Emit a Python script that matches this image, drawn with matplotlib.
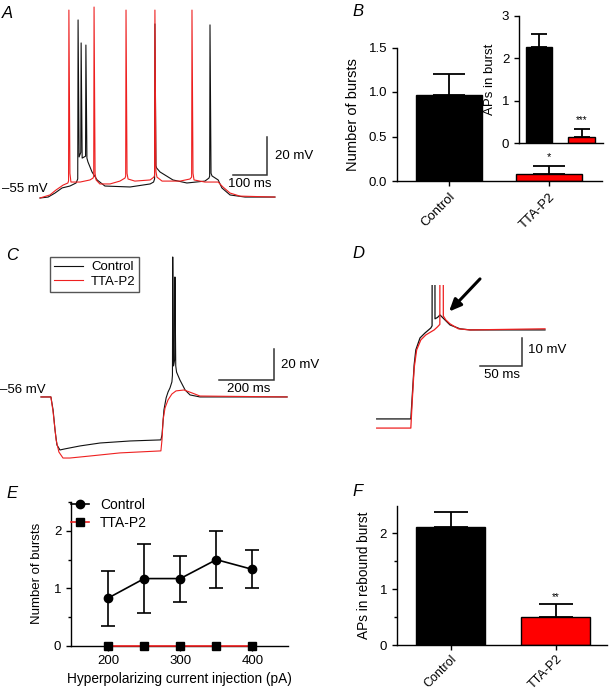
import matplotlib
matplotlib.use('Agg')
import matplotlib.pyplot as plt
from matplotlib.lines import Line2D

plt.rcParams['font.family'] = ['Liberation Sans', 'DejaVu Sans']
plt.rcParams['font.size'] = 9
plt.rcParams['axes.linewidth'] = 1.0
plt.rcParams['xtick.major.width'] = 1.0
plt.rcParams['ytick.major.width'] = 1.0
plt.rcParams['xtick.major.size'] = 3.5
plt.rcParams['ytick.major.size'] = 3.5

RED = '#ee2020'
BAR_RED = '#ff0000'
BLK = '#111111'

# ---------------- data ----------------
# Panel A: spontaneous firing traces (time ms, membrane potential mV)
a_ctrl_t = [0, 24, 44, 65, 88, 106, 111, 112, 115, 120, 121, 124, 134, 135, 138, 141, 153, 168, 191, 265,
            324, 334, 337, 338, 341, 343, 353, 391, 432, 485, 497, 499, 500, 503, 506, 524, 535, 559, 603, 691]
a_ctrl_v = [-55.0, -54.5, -52.4, -49.7, -48.7, -47.1, -45.0, 38.7, -33.4, -31.0, 26.6, -34.0, -33.0, 25.5, -34.0,
            -36.0, -41.3, -45.5, -48.7, -49.2, -47.6, -46.6, -45.0, 36.6, -38.0, -39.2, -41.3, -45.5, -47.1, -46.1,
            -44.5, -43.5, 36.1, -42.0, -43.4, -45.5, -49.7, -53.4, -54.5, -54.5]
a_tta_t = [0, 29, 47, 68, 82, 84, 85, 88, 91, 118, 147, 156, 158, 159, 162, 165, 176, 206, 235, 250,
           252, 253, 256, 259, 279, 324, 335, 337, 338, 341, 344, 359, 412, 441, 446, 447, 450, 453, 485, 524,
           538, 559, 588, 691]
a_tta_v = [-55.0, -53.4, -50.8, -48.2, -47.1, -46.0, 43.9, -42.0, -46.6, -46.6, -45.5, -44.5, -43.5, 45.5, -42.0,
           -45.5, -47.6, -47.6, -46.1, -44.5, -43.5, 43.9, -42.0, -45.0, -46.1, -45.5, -44.0, -43.0, 43.9, -41.0,
           -44.0, -46.1, -46.1, -45.0, -44.0, 43.9, -42.0, -45.5, -46.6, -46.6, -49.2, -52.4, -54.0, -54.5]

# Panel B
groups = ['Control', 'TTA-P2']
bursts_mean = [0.97, 0.08]
bursts_sem = [0.23, 0.09]
aps_burst_mean = [2.28, 0.15]
aps_burst_sem = [0.29, 0.18]

# Panel C: rebound traces
c_ctrl_t = [0, 36, 44, 51, 58, 69, 87, 142, 215, 324, 436, 440, 447, 455, 462, 469, 476, 478, 479, 482,
            486, 487, 490, 493, 505, 524, 542, 578, 895]
c_ctrl_v = [-56.0, -56.0, -64.4, -77.3, -87.0, -90.2, -89.5, -87.6, -85.7, -84.4, -83.7, -80.5, -64.4, -56.6,
            -52.8, -50.2, -46.3, -42.0, 34.3, -36.0, -32.0, 21.4, -36.0, -40.0, -45.0, -51.5, -54.7, -56.0, -56.0]
c_tta_t = [0, 36, 44, 55, 65, 80, 105, 178, 287, 436, 440, 444, 451, 462, 476, 491, 520, 549, 578, 895]
c_tta_v = [-56.0, -56.0, -65.7, -83.7, -91.5, -95.4, -95.4, -94.1, -92.1, -90.8, -83.7, -70.8, -63.1, -57.9,
           -54.1, -52.1, -51.5, -53.4, -55.4, -56.0]

# Panel D: expanded rebound
d_ctrl_t = [0, 41, 42.4, 45, 47, 52, 58, 65, 66.5, 66.7, 69.8, 70.0, 73, 76, 82, 88, 100, 112, 202]
d_ctrl_v = [-88.1, -88.1, -81.3, -68.6, -63.2, -58.9, -57.1, -55.3, -54.5, 0.0, 0.0, -52.0, -51.5, -50.6,
            -52.4, -54.2, -55.6, -56.0, -56.0]
d_tta_t = [0, 41, 42.4, 45, 48, 53, 59, 69, 73, 75.8, 76.0, 79.8, 80.0, 83, 88, 98, 112, 202]
d_tta_v = [-91.4, -91.4, -83.1, -69.7, -63.2, -59.6, -57.8, -56.0, -54.9, -54.0, 0.0, 0.0, -51.0, -52.4,
           -53.8, -55.6, -56.0, -55.6]

# Panel E
current = [200, 250, 300, 350, 400]
e_ctrl_mean = [0.83, 1.17, 1.17, 1.50, 1.33]
e_ctrl_sem = [0.48, 0.60, 0.40, 0.50, 0.33]
e_tta_mean = [0, 0, 0, 0, 0]

# Panel F
rebound_mean = [2.12, 0.51]
rebound_sem = [0.27, 0.23]

# ---------------- figure ----------------
W, H = 610, 693
fig = plt.figure(figsize=(W / 100, H / 100), dpi=100)


def add_ax(x0, y0, x1, y1):
    return fig.add_axes([x0 / W, 1 - y1 / H, (x1 - x0) / W, (y1 - y0) / H])


def ftext(x, y, s, **kw):
    fig.text(x / W, 1 - y / H, s, **kw)


def panel_label(x, y, s):
    ftext(x, y, s, fontsize=12, fontstyle='italic', ha='left', va='center')


def style_bar_axes(ax):
    for sp in ['top', 'right']:
        ax.spines[sp].set_visible(False)
    ax.tick_params(direction='out', length=3.5, labelsize=9.5)
    ax.tick_params(which='minor', direction='out', length=2.2, width=1.0)


# ---- Panel A ----
axA = add_ax(35, 0, 300, 200)
axA.set_xlim(-14.7, 764.7)
axA.set_ylim(-56.05, 49.2)
axA.axis('off')
axA.plot(a_ctrl_t, a_ctrl_v, color=BLK, lw=0.8)
axA.plot(a_tta_t, a_tta_v, color=RED, lw=0.8)
axA.plot([567.6, 667.6, 667.6], [-42.9, -42.9, -22.9], color='#333333', lw=1.1, solid_joinstyle='miter')
axA.text(691, -32.9, '20 mV', ha='left', va='center', fontsize=9.5)
axA.text(618, -47.8, '100 ms', ha='center', va='center', fontsize=9.5)
axA.text(21, -50.0, '\u201355 mV', ha='right', va='center', fontsize=9.5)
panel_label(2, 14, 'A')

# ---- Panel B ----
axB = add_ax(397, 47.5, 602, 181)
style_bar_axes(axB)
xb = [0, 1]
axB.errorbar(xb, bursts_mean, yerr=[[0, 0], bursts_sem], fmt='none', ecolor='black',
             elinewidth=1.3, capsize=11.5, capthick=1.3, zorder=1)
axB.bar(xb, bursts_mean, width=0.657, color=['black', BAR_RED], edgecolor='black', linewidth=1.0, zorder=2)
axB.set_xlim(-0.514, 1.525)
axB.set_ylim(0, 1.5)
axB.set_yticks([0, 0.5, 1.0, 1.5])
axB.set_yticklabels(['0.0', '0.5', '1.0', '1.5'])
axB.set_xticks(xb)
axB.set_xticklabels(groups, rotation=45, ha='right', rotation_mode='anchor', fontsize=9.5)
axB.set_ylabel('Number of bursts', labelpad=6, fontsize=10.5)
axB.text(1, 0.27, '*', ha='center', va='center', fontsize=8)
panel_label(352, 12, 'B')

axBi = add_ax(519, 16, 603, 143.3)
axBi.patch.set_alpha(0)
style_bar_axes(axBi)
axBi.errorbar(xb, aps_burst_mean, yerr=[[0, 0], aps_burst_sem], fmt='none', ecolor='black',
              elinewidth=1.3, capsize=6, capthick=1.3, zorder=1)
axBi.bar(xb, aps_burst_mean, width=0.625, color=['black', BAR_RED], edgecolor='black', linewidth=1.0, zorder=2)
axBi.set_xlim(-0.47, 1.5)
axBi.set_ylim(0, 3)
axBi.set_yticks([0, 1, 2, 3])
axBi.set_xticks([])
axBi.set_ylabel('APs in burst', labelpad=4, fontsize=9.5)
axBi.text(1, 0.55, '***', ha='center', va='center', fontsize=7)

# ---- Panel C ----
axC = add_ax(35, 250, 300, 465)
axC.set_xlim(-21.8, 941.8)
axC.set_ylim(-99.9, 38.8)
axC.axis('off')
lc1, = axC.plot(c_ctrl_t, c_ctrl_v, color=BLK, lw=0.8)
lc2, = axC.plot(c_tta_t, c_tta_v, color=RED, lw=0.8)
axC.plot([647.3, 847.3, 847.3], [-45.0, -45.0, -25.0], color='#333333', lw=1.1, solid_joinstyle='miter')
axC.text(872.7, -35.4, '20 mV', ha='left', va='center', fontsize=9.5)
axC.text(756, -51.0, '200 ms', ha='center', va='center', fontsize=9.5)
axC.text(18, -51.5, '\u201356 mV', ha='right', va='center', fontsize=9.5)
legC = axC.legend([lc1, lc2], groups, loc='upper left', bbox_to_anchor=(50 / W, 1 - 257 / H),
                  bbox_transform=fig.transFigure, fancybox=False, edgecolor='#555555', framealpha=1,
                  borderaxespad=0, borderpad=0.3, handlelength=2.2, handletextpad=0.6, labelspacing=0.2,
                  fontsize=9.5)
legC.get_frame().set_linewidth(1.0)
panel_label(6, 255, 'C')

# ---- Panel D ----
axD = add_ax(370, 285, 560, 440)
axD.set_xlim(-8.0, 220.0)
axD.set_ylim(-95.7, -39.8)
axD.axis('off')
axD.plot(d_ctrl_t, d_ctrl_v, color=BLK, lw=0.9)
axD.plot(d_tta_t, d_tta_v, color=RED, lw=0.9)
axD.plot([124, 174, 174], [-68.9, -68.9, -58.9], color='#333333', lw=1.1, solid_joinstyle='miter')
axD.text(181.6, -63.2, '10 mV', ha='left', va='center', fontsize=9.5)
axD.text(150.4, -72.4, '50 ms', ha='center', va='center', fontsize=9.5)
axD.annotate('', xy=(86.8, -49.4), xytext=(124, -37.6), annotation_clip=False,
             arrowprops=dict(arrowstyle='-|>,head_length=0.8,head_width=0.35', color='black', lw=2.2,
                             shrinkA=0, shrinkB=0))
panel_label(352, 253, 'D')

# ---- Panel E ----
axE = add_ax(71, 501.7, 288, 645.7)
style_bar_axes(axE)
axE.errorbar(current, e_ctrl_mean, yerr=e_ctrl_sem, fmt='none', ecolor='black', elinewidth=1.2,
             capsize=5, capthick=1.2, zorder=2)
axE.plot(current, e_ctrl_mean, color='black', lw=1.2, marker='o', ms=6, zorder=3)
axE.plot(current, e_tta_mean, color=RED, lw=1.2, marker='s', ms=5.5, mfc='black', mec='black',
         zorder=4, clip_on=False)
axE.set_xlim(148.6, 449.2)
axE.set_ylim(0, 2.51)
axE.set_xticks([200, 300, 400])
axE.set_yticks([0, 1, 2])
axE.set_yticks([0.5, 1.5, 2.5], minor=True)
axE.set_xlabel('Hyperpolarizing current injection (pA)', labelpad=3, fontsize=9.8)
axE.set_ylabel('Number of bursts', labelpad=8, fontsize=9.5)
hE = [Line2D([], [], color='black', lw=1.2, marker='o', ms=6),
      Line2D([], [], color=RED, lw=1.2, marker='s', ms=5.5, mfc='black', mec='black')]
axE.legend(hE, groups, loc='upper left', bbox_to_anchor=(71 / W, 1 - 498 / H), bbox_transform=fig.transFigure,
           frameon=False, borderaxespad=0, borderpad=0, handlelength=1.3, handletextpad=0.8,
           labelspacing=0.3, fontsize=10)
panel_label(6, 493, 'E')

# ---- Panel F ----
axF = add_ax(396.7, 506, 606.7, 645)
style_bar_axes(axF)
axF.errorbar(xb, rebound_mean, yerr=[[0, 0], rebound_sem], fmt='none', ecolor='black',
             elinewidth=1.3, capsize=12, capthick=1.3, zorder=1)
axF.bar(xb, rebound_mean, width=0.657, color=['black', BAR_RED], edgecolor='black', linewidth=1.0, zorder=2)
axF.set_xlim(-0.514, 1.486)
axF.set_ylim(0, 2.49)
axF.set_yticks([0, 1, 2])
axF.set_yticks([0.5, 1.5], minor=True)
axF.set_xticks(xb)
axF.set_xticklabels(groups, rotation=45, ha='right', rotation_mode='anchor', fontsize=9)
axF.tick_params(axis='x', pad=2)
axF.set_ylabel('APs in rebound burst', labelpad=6, fontsize=9.8)
axF.text(1, 0.86, '**', ha='center', va='center', fontsize=7)
panel_label(352, 492, 'F')

fig.savefig('out.png', dpi=100)
